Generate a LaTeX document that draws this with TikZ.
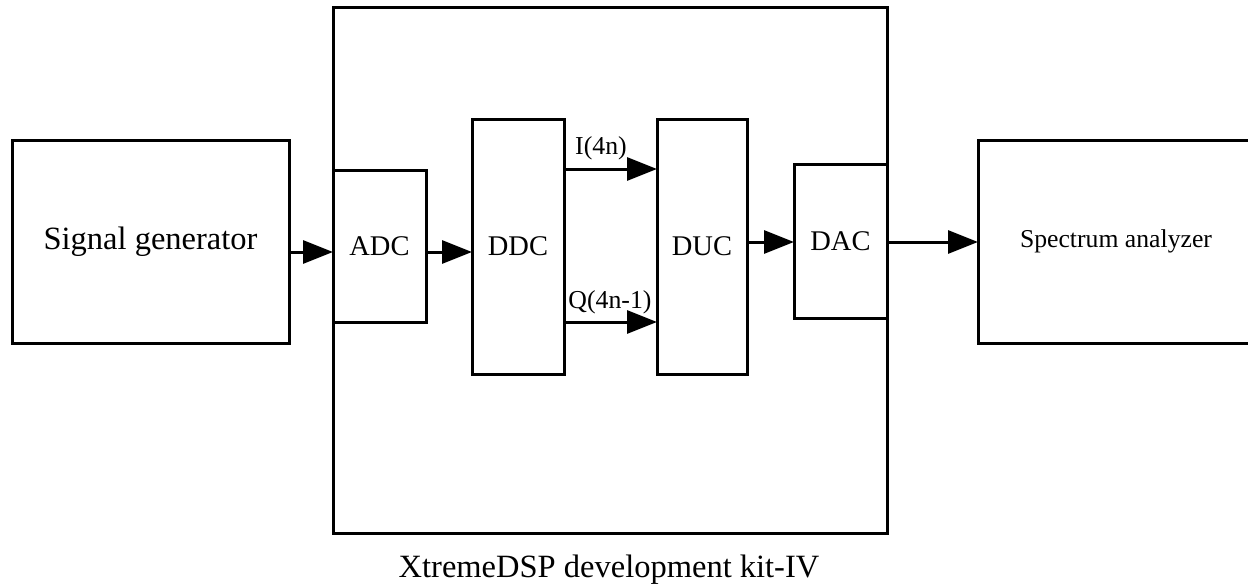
\documentclass[tikz,border=0pt]{standalone}
\usepackage{fontspec}
\setmainfont{Liberation Serif}
\usetikzlibrary{arrows.meta}
\begin{document}
\begin{tikzpicture}[x=1pt,y=-1pt,
  blk/.style={draw, line width=3pt, inner sep=0pt, outer sep=0pt, align=center},
  arr/.style={line width=3pt, -{Triangle[length=30pt,width=23pt]}},
  big/.style={font=\fontsize{32.5}{36}\selectfont},
  mid/.style={font=\fontsize{28.5}{32}\selectfont},
  sml/.style={font=\fontsize{25.8}{30}\selectfont}]
\useasboundingbox (0,0) rectangle (1248,586);
% boxes
\node[blk, minimum width=554pt, minimum height=525pt] (kit) at (610,270.5) {};
\node[blk, big, minimum width=277pt, minimum height=203pt] (sig) at (150.5,241.5) {Signal generator};
\node[blk, mid, minimum width=93pt, minimum height=152pt] (adc) at (379.5,246) {ADC};
\node[blk, mid, minimum width=92pt, minimum height=255pt] (ddc) at (518,246.5) {DDC};
\node[blk, mid, minimum width=90pt, minimum height=255pt] (duc) at (702,246.5) {DUC};
\node[blk, mid, minimum width=93pt, minimum height=154pt] (dac) at (840.5,241) {DAC};
\node[blk, font=\fontsize{25.7}{30}\selectfont, minimum width=276pt, minimum height=203pt] (sa) at (1116,241.5) {Spectrum analyzer};
% caption
\node[big, anchor=base] (cap) at (609,577) {XtremeDSP development kit-IV};
% arrow levels
\coordinate (ya) at (0,252);
\coordinate (yi) at (0,169);
\coordinate (yq) at (0,322);
\coordinate (yd) at (0,242);
% connectors
\draw[arr] (sig.east |- ya) -- (adc.west |- ya);
\draw[arr] (adc.east |- ya) -- (ddc.west |- ya);
\draw[arr] (ddc.east |- yi) -- (duc.west |- yi);
\draw[arr] (ddc.east |- yq) -- (duc.west |- yq);
\draw[arr] (duc.east |- yd) -- (dac.west |- yd);
\draw[arr] (dac.east |- yd) -- (sa.west |- yd);
% labels
\node[sml, anchor=base] (li) at (601,154) {I(4n)};
\node[sml, anchor=base] (lq) at (610,308) {Q(4n-1)};
\end{tikzpicture}
\end{document}
